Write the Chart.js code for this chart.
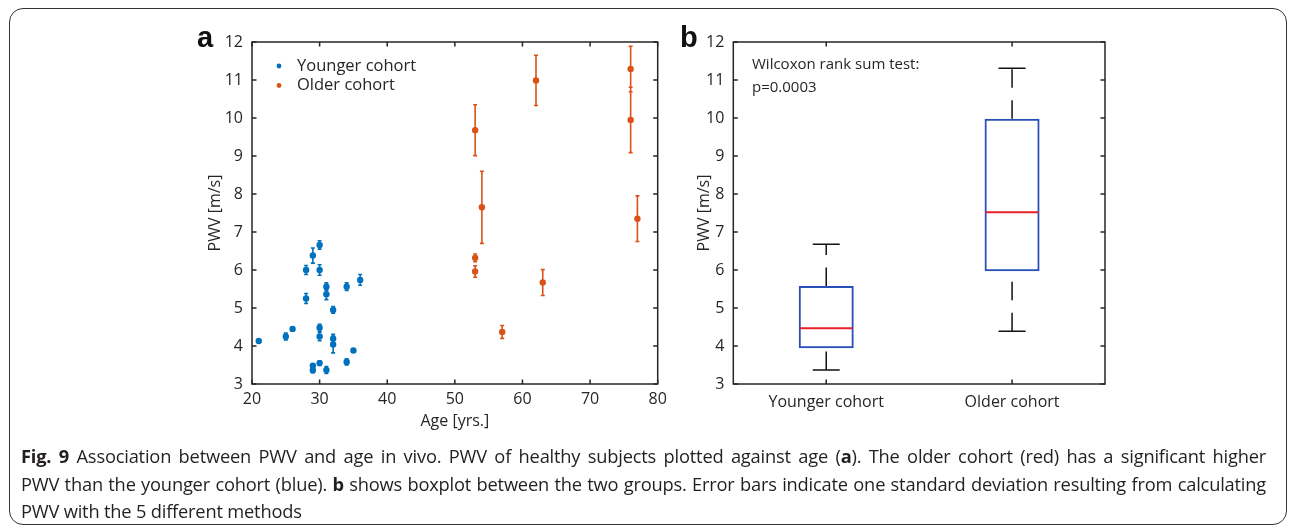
<!DOCTYPE html>
<html><head><meta charset="utf-8">
<script src="https://cdn.jsdelivr.net/npm/chart.js@4.4.1/dist/chart.umd.min.js"></script>
<style>
html,body{margin:0;padding:0;background:#fff;width:1290px;height:527px;overflow:hidden;}
#frame{position:absolute;left:9px;top:8px;width:1276px;height:515px;border:1.5px solid #333;border-radius:14px;}
canvas{position:absolute;top:0;}
#cA{left:0;} #cB{left:660px;}
.lab{position:absolute;font-family:"Liberation Sans",Arial,sans-serif;font-weight:bold;font-size:29px;line-height:29px;color:#111;}
.note{position:absolute;font-family:"Open Sans",sans-serif;font-size:15px;color:#262626;line-height:23px;}
#cap{position:absolute;left:21px;top:442px;width:1245px;font-family:"Open Sans",sans-serif;font-size:18.3px;letter-spacing:-0.2px;color:#231f20;line-height:27.5px;}
#cap div{text-align:justify;text-align-last:justify;white-space:nowrap;}
#cap div.last{text-align-last:left;}
</style></head>
<body>
<div id="frame"></div>
<canvas id="cA" width="700" height="527"></canvas>
<canvas id="cB" width="630" height="527"></canvas>
<div class="lab" style="left:197px;top:23px;">a</div>
<div class="lab" style="left:680px;top:23px;">b</div>
<div class="note" style="left:752px;top:52px;">Wilcoxon rank sum test:<br>p=0.0003</div>
<div id="cap">
<div><b>Fig. 9</b> Association between PWV and age in vivo. PWV of healthy subjects plotted against age (<b>a</b>). The older cohort (red) has a significant higher</div>
<div>PWV than the younger cohort (blue). <b>b</b> shows boxplot between the two groups. Error bars indicate one standard deviation resulting from calculating</div>
<div class="last">PWV with the 5 different methods</div>
</div>
<script>
// ---------- data ----------
const youngAge = [21,25,26,28,28,29,29,29,30,30,30,30,30,31,31,31,32,32,32,34,34,35,36];
const youngPwv = [4.13,4.25,4.45,6.00,5.25,6.38,3.48,3.36,6.66,6.00,4.48,4.25,3.55,5.56,5.36,3.37,4.95,4.19,4.04,5.56,3.58,3.88,5.74];
const youngSd  = [0.03,0.09,0.04,0.12,0.13,0.20,0.05,0.06,0.11,0.14,0.09,0.11,0.06,0.10,0.14,0.09,0.09,0.12,0.22,0.10,0.08,0.04,0.14];
const oldAge = [53,54,53,53,57,62,63,76,76,77];
const oldPwv = [9.68,7.65,6.32,5.96,4.37,10.99,5.67,11.29,9.95,7.35];
const oldSd  = [0.67,0.95,0.10,0.15,0.17,0.66,0.34,0.60,0.86,0.60];
const seriesLabels = ['Younger cohort','Older cohort'];
const ageTicks = [20,30,40,50,60,70,80];
const pwvTicks = [3,4,5,6,7,8,9,10,11,12];
const cohortLabels = ['Younger cohort','Older cohort'];
const boxMin = [3.37,4.39];
const boxQ1  = [3.94,5.97];
const boxMed = [4.47,7.52];
const boxQ3  = [5.58,9.98];
const boxMax = [6.68,11.31];

// ---------- styles ----------
const axisColor = '#262626';
const blue = '#0072BD', orange = '#D95319';
const boxBlue = '#2a4fb8', medRed = '#e8202a';
const FONT = '"Open Sans", sans-serif';
Chart.defaults.font.family = FONT;
Chart.defaults.font.size = 16;
Chart.defaults.color = axisColor;

// matlab-like box with inward ticks on all sides
const matlabBox = {
  id: 'matlabBox',
  afterDraw(chart) {
    const {ctx, chartArea: a, scales: {x, y}} = chart;
    ctx.save();
    ctx.strokeStyle = axisColor; ctx.lineWidth = 1.5;
    ctx.strokeRect(a.left, a.top, a.right - a.left, a.bottom - a.top);
    const tl = 4.5;
    ctx.beginPath();
    x.ticks.forEach((t, i) => {
      const px = x.getPixelForTick(i);
      ctx.moveTo(px, a.bottom); ctx.lineTo(px, a.bottom - tl);
      ctx.moveTo(px, a.top); ctx.lineTo(px, a.top + tl);
    });
    y.ticks.forEach((t, i) => {
      const py = y.getPixelForTick(i);
      ctx.moveTo(a.left, py); ctx.lineTo(a.left + tl, py);
      ctx.moveTo(a.right, py); ctx.lineTo(a.right - tl, py);
    });
    ctx.stroke();
    ctx.restore();
  }
};

const errorBars = {
  id: 'errorBars',
  beforeDatasetsDraw(chart) {
    const {ctx, scales: {x, y}} = chart;
    chart.data.datasets.forEach(ds => {
      if (!ds.sd) return;
      ctx.save();
      ctx.strokeStyle = ds.borderColor; ctx.lineWidth = 1.6;
      ctx.beginPath();
      ds.data.forEach((p, i) => {
        const px = x.getPixelForValue(p.x);
        const y0 = y.getPixelForValue(p.y - ds.sd[i]);
        const y1 = y.getPixelForValue(p.y + ds.sd[i]);
        ctx.moveTo(px, y0); ctx.lineTo(px, y1);
        ctx.moveTo(px - 2, y0); ctx.lineTo(px + 2, y0);
        ctx.moveTo(px - 2, y1); ctx.lineTo(px + 2, y1);
      });
      ctx.stroke();
      ctx.restore();
    });
  }
};

const insideLegend = {
  id: 'insideLegend',
  afterDraw(chart) {
    const {ctx, chartArea: a} = chart;
    ctx.save();
    chart.data.datasets.forEach((ds, i) => {
      const yy = a.top + 24 + i * 19.5;
      ctx.fillStyle = ds.backgroundColor;
      ctx.beginPath(); ctx.arc(a.left + 27, yy, 2.4, 0, 2 * Math.PI); ctx.fill();
      ctx.fillStyle = axisColor;
      ctx.font = '16.5px ' + FONT;
      ctx.textBaseline = 'middle'; ctx.textAlign = 'left';
      ctx.fillText(ds.label, a.left + 45, yy);
    });
    ctx.restore();
  }
};

const boxParts = {
  id: 'boxParts',
  afterDatasetsDraw(chart) {
    const {ctx, scales: {x, y}} = chart;
    ctx.save();
    cohortLabels.forEach((c, i) => {
      const cx = x.getPixelForValue(i);
      const half = 27.5, cap = 13.5;
      // whiskers (dashed), drawn from Q3 up to max and from min up to Q1
      ctx.strokeStyle = '#111'; ctx.lineWidth = 1.5;
      ctx.setLineDash([18.5, 12.5]);
      ctx.beginPath();
      ctx.moveTo(cx, y.getPixelForValue(boxQ3[i])); ctx.lineTo(cx, y.getPixelForValue(boxMax[i]));
      ctx.stroke();
      ctx.beginPath();
      ctx.moveTo(cx, y.getPixelForValue(boxMin[i])); ctx.lineTo(cx, y.getPixelForValue(boxQ1[i]));
      ctx.stroke();
      ctx.setLineDash([]);
      ctx.beginPath();
      const pMax = y.getPixelForValue(boxMax[i]), pMin = y.getPixelForValue(boxMin[i]);
      ctx.moveTo(cx - cap, pMax); ctx.lineTo(cx + cap, pMax);
      ctx.moveTo(cx - cap, pMin); ctx.lineTo(cx + cap, pMin);
      ctx.stroke();
      // median
      ctx.strokeStyle = medRed; ctx.lineWidth = 2;
      const pm = y.getPixelForValue(boxMed[i]);
      ctx.beginPath(); ctx.moveTo(cx - half + 1, pm); ctx.lineTo(cx + half - 1, pm); ctx.stroke();
    });
    ctx.restore();
  }
};

// ---------- chart a ----------
new Chart(document.getElementById('cA'), {
  type: 'scatter',
  data: {
    datasets: [
      { label: seriesLabels[0], data: youngAge.map((a, i) => ({x: a, y: youngPwv[i]})), sd: youngSd,
        backgroundColor: blue, borderColor: blue, pointRadius: 3.2, pointBorderWidth: 0 },
      { label: seriesLabels[1], data: oldAge.map((a, i) => ({x: a, y: oldPwv[i]})), sd: oldSd,
        backgroundColor: orange, borderColor: orange, pointRadius: 3.2, pointBorderWidth: 0 }
    ]
  },
  options: {
    responsive: false, animation: false,
    layout: { padding: { left: 200, right: 42.3, top: 42, bottom: 96.4 } },
    plugins: { legend: { display: false }, tooltip: { enabled: false } },
    scales: {
      x: {
        type: 'linear', min: 20, max: 80,
        afterBuildTicks: s => { s.ticks = ageTicks.map(v => ({value: v})); },
        ticks: { padding: 6, color: axisColor, font: {size: 16} },
        grid: { display: false, drawTicks: false }, border: { display: false },
        title: { display: true, text: 'Age [yrs.]', color: axisColor, font: {size: 16}, padding: 0 },
        afterFit: s => { s.height = 46.6; }
      },
      y: {
        type: 'linear', min: 3, max: 12,
        afterBuildTicks: s => { s.ticks = pwvTicks.map(v => ({value: v})); },
        ticks: { padding: 9, color: axisColor, font: {size: 16} },
        grid: { display: false, drawTicks: false }, border: { display: false },
        title: { display: true, text: 'PWV [m/s]', color: axisColor, font: {size: 16}, padding: {top: 5.4, bottom: 0} },
        afterFit: s => { s.width = 52; }
      }
    }
  },
  plugins: [errorBars, matlabBox, insideLegend]
});

// ---------- chart b ----------
new Chart(document.getElementById('cB'), {
  type: 'bar',
  data: {
    labels: cohortLabels,
    datasets: [{
      data: cohortLabels.map((c, i) => [boxQ1[i], boxQ3[i]]),
      backgroundColor: 'rgba(0,0,0,0)', borderColor: boxBlue, borderWidth: 2,
      borderSkipped: false, barPercentage: 0.296, categoryPercentage: 1
    }]
  },
  options: {
    responsive: false, animation: false,
    layout: { padding: { left: 30, right: 185, top: 42, bottom: 103 } },
    plugins: { legend: { display: false }, tooltip: { enabled: false } },
    scales: {
      x: {
        type: 'category',
        ticks: { padding: 9, color: axisColor, font: {size: 16} },
        grid: { display: false, drawTicks: false }, border: { display: false },
        afterFit: s => { s.height = 40; }
      },
      y: {
        type: 'linear', min: 3, max: 12,
        afterBuildTicks: s => { s.ticks = pwvTicks.map(v => ({value: v})); },
        ticks: { padding: 9, color: axisColor, font: {size: 16} },
        grid: { display: false, drawTicks: false }, border: { display: false },
        title: { display: true, text: 'PWV [m/s]', color: axisColor, font: {size: 16}, padding: {top: 4.4, bottom: 0} },
        afterFit: s => { s.width = 43.3; }
      }
    }
  },
  plugins: [boxParts, matlabBox]
});
</script>
</body></html>
